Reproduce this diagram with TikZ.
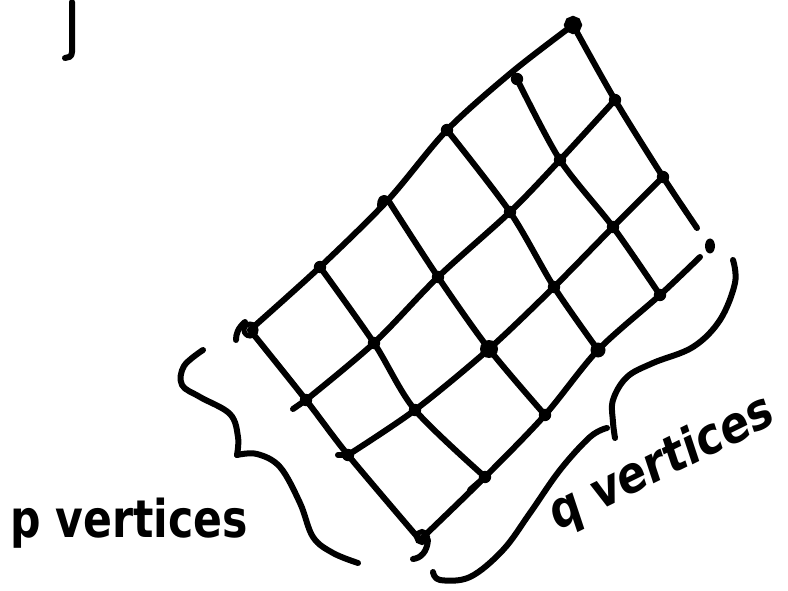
\documentclass[tikz,border=0pt]{standalone}
\usepackage{fontspec}
\newfontfamily\handfont{DejaVu Sans}
\begin{document}
\begin{tikzpicture}[x=1pt,y=-1pt,
  pen/.style={line width=6pt, line cap=round, line join=round},
  vdot/.style={fill=black},
  lbl/.style={font=\handfont\bfseries\fontsize{52}{52}\selectfont, inner sep=0pt}]
\useasboundingbox (0,0) rectangle (788,591);
% vertices
\coordinate (v00) at (250,330); \coordinate (v01) at (320,267); \coordinate (v02) at (388,200);
\coordinate (v03) at (447,130); \coordinate (t04) at (512,72);  \coordinate (v04) at (517,79);
\coordinate (v05) at (573,25);
\coordinate (v10) at (306,400); \coordinate (v11) at (374,343); \coordinate (v12) at (438,277);
\coordinate (v13) at (510,212); \coordinate (v14) at (560,160); \coordinate (v15) at (615,100);
\coordinate (v20) at (348,455); \coordinate (v21) at (415,410); \coordinate (v22) at (489,349);
\coordinate (v23) at (554,287); \coordinate (v24) at (613,227); \coordinate (v25) at (663,177);
\coordinate (v30) at (420,540); \coordinate (v31) at (485,477); \coordinate (v32) at (545,415);
\coordinate (v33) at (598,350); \coordinate (v34) at (660,295); \coordinate (v35) at (710,246);
\coordinate (e5) at (697,228); \coordinate (e3) at (700,257);
% p-lines
\draw[pen] plot[smooth,tension=0.5] coordinates {(v00) (v01) (v02) (v03) (t04) (v05)};
\draw[pen] plot[smooth,tension=0.5] coordinates {(v10) (v11) (v12) (v13) (v14) (v15)};
\draw[pen] plot[smooth,tension=0.5] coordinates {(v20) (v21) (v22) (v23) (v24) (v25)};
\draw[pen] plot[smooth,tension=0.5] coordinates {(v30) (v31) (v32) (v33) (v34) (e3)};
% q-lines
\draw[pen] plot[smooth,tension=0.5] coordinates {(v00) (v10) (v20) (v30)};
\draw[pen] plot[smooth,tension=0.5] coordinates {(v01) (v11) (v21) (v31)};
\draw[pen] plot[smooth,tension=0.5] coordinates {(v02) (v12) (v22) (v32)};
\draw[pen] plot[smooth,tension=0.5] coordinates {(v03) (v13) (v23) (v33)};
\draw[pen] plot[smooth,tension=0.5] coordinates {(v04) (v14) (v24) (v34)};
\draw[pen] plot[smooth,tension=0.5] coordinates {(v05) (v15) (v25) (e5)};
% vertex dots
\foreach \v in {v01,v03,v04,v10,v11,v12,v13,v14,v15,v20,v21,v23,v24,v25,v31,v32,v34}
  \fill[vdot] (\v) circle (6.2pt);
\fill[vdot] (v22) circle (9pt);
\fill[vdot] (v33) circle (7.5pt);
\fill[vdot] (v35) ellipse (5pt and 7.5pt);
% corner rings
\draw[line width=7pt] (v05) circle (5.5pt);
\draw[line width=5pt] (v00) circle (6pt);
\draw[pen] (245,322) .. controls (238,328) and (236,334) .. (236,340);
\draw[line width=5pt] (422,537) circle (5.5pt);
\draw[pen] (428,540) .. controls (427,552) and (421,558) .. (413,559);
% small pen ticks
\draw[pen] (v10) -- (293,409);
\draw[pen] (v20) -- (338,455);
\draw[pen] (v31) -- (470,490);
\draw[pen] (v02) .. controls (382,195) and (380,200) .. (380,206);
% top-left mark
\draw[pen] (72,2) -- (72,52) .. controls (72,57) and (68,58) .. (65,58);
% left brace
\draw[pen] plot[smooth,tension=0.6] coordinates {(203,350) (184,366) (182,385) (200,397) (230,414) (238,437) (237,455)};
\draw[pen] plot[smooth,tension=0.6] coordinates {(237,455) (257,454) (280,467) (300,503) (313,537) (333,553) (358,563)};
% right brace
\draw[pen] plot[smooth,tension=0.6] coordinates {(733,260) (735,283) (720,320) (693,347) (653,363) (627,377) (613,400) (613,422) (615,438)};
\draw[pen] plot[smooth,tension=0.6] coordinates {(607,428) (590,437) (560,470) (530,513) (503,550) (470,577) (440,580) (433,572)};
% labels
\node[lbl, anchor=base west, xscale=0.82] (plabel) at (10,537) {p vertices};
\node[lbl, anchor=base west, xscale=0.82, rotate=22] (qlabel) at (556,532) {q vertices};
\end{tikzpicture}
\end{document}
